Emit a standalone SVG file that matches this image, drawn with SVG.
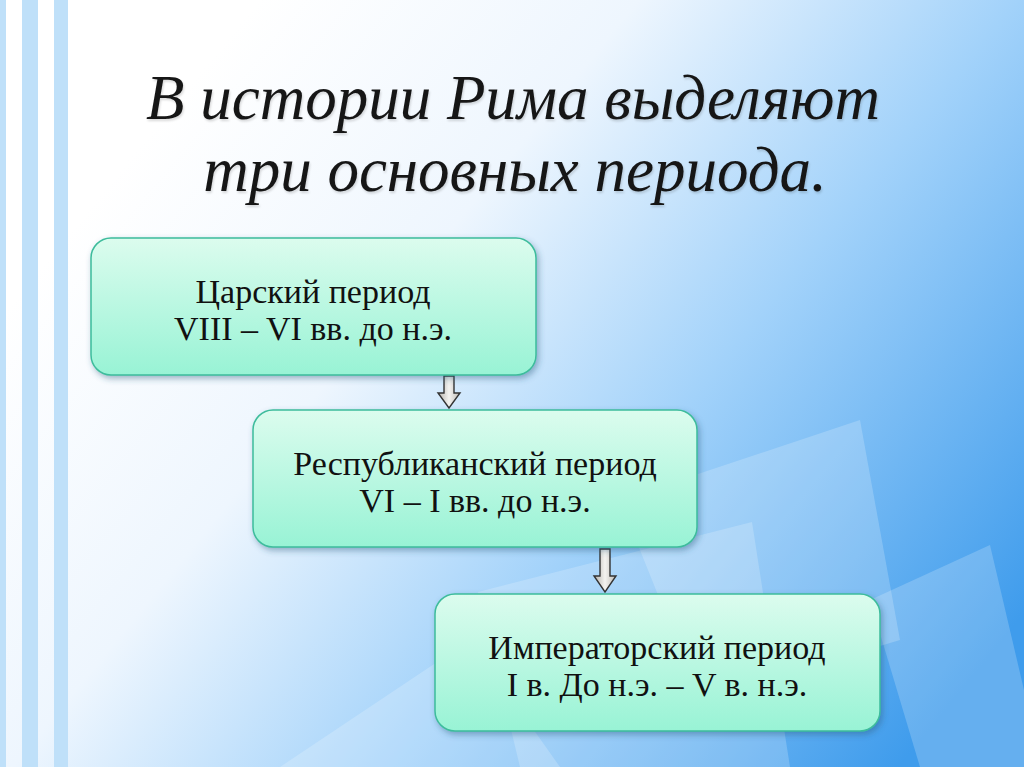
<svg xmlns="http://www.w3.org/2000/svg" width="1024" height="767" viewBox="0 0 1024 767">
<defs>
<linearGradient id="bg" x1="0.1" y1="0.25" x2="1" y2="0.8">
<stop offset="0" stop-color="#ffffff"/>
<stop offset="0.3" stop-color="#eef6fe"/>
<stop offset="0.6" stop-color="#a2d2fa"/>
<stop offset="1" stop-color="#3f9cec"/>
</linearGradient>
<linearGradient id="box" x1="0" y1="0" x2="0" y2="1">
<stop offset="0" stop-color="#dcfcee"/>
<stop offset="1" stop-color="#98f3d5"/>
</linearGradient>
<linearGradient id="arr" x1="0" y1="0" x2="1" y2="0">
<stop offset="0" stop-color="#b3b0aa"/>
<stop offset="0.5" stop-color="#f4f3f0"/>
<stop offset="1" stop-color="#bdbab4"/>
</linearGradient>
<filter id="sh" x="-10%" y="-10%" width="120%" height="130%">
<feDropShadow dx="2" dy="3" stdDeviation="3" flood-color="#2a5d80" flood-opacity="0.45"/>
</filter>
<filter id="tsh" x="-5%" y="-20%" width="110%" height="140%">
<feDropShadow dx="1" dy="2" stdDeviation="1.2" flood-color="#000" flood-opacity="0.15"/>
</filter>
<style>
.node rect{fill:url(#box);stroke:#3dbc9c;stroke-width:1.5;filter:url(#sh)}
.node text{font-family:"Liberation Serif",serif;font-size:34px;fill:#111;text-anchor:middle}
.title{font-family:"Liberation Serif",serif;font-style:italic;font-size:63px;fill:#151515;text-anchor:middle;filter:url(#tsh)}
.stripe{fill:#bfe0f9}
.paper{fill:#ffffff;opacity:0.2}
.conn path{fill:url(#arr);stroke:#333;stroke-width:1.4}
</style>
</defs>
<rect width="1024" height="767" fill="url(#bg)"/>
<g id="papers">
<polygon class="paper" points="478,592 752,522 790,767 520,767"/>
<polygon class="paper" points="620,500 860,420 900,640 700,700"/>
<polygon class="paper" points="870,600 990,545 1024,690 1024,767 920,767"/>
<polygon class="paper" points="280,767 470,640 560,767"/>
</g>
<g id="stripes">
<rect class="stripe" x="0" y="0" width="6" height="767"/>
<rect class="stripe" x="22" y="0" width="16" height="767"/>
<rect class="stripe" x="54" y="0" width="14" height="767"/>
</g>
<text class="title" x="513" y="119">В истории Рима выделяют</text>
<text class="title" x="515" y="191">три основных периода.</text>
<g id="connectors" class="conn">
<path d="M444,376 H454 V393 H460 L449,408 L438,393 H444 Z"/>
<path d="M600,549 H610 V576 H616 L605,592 L594,576 H600 Z"/>
</g>
<g id="node1" class="node">
<rect x="91" y="238" width="445" height="137" rx="20"/>
<text x="313" y="303">Царский период</text>
<text x="313" y="340">VIII – VI вв. до н.э.</text>
</g>
<g id="node2" class="node">
<rect x="253" y="410" width="444" height="137" rx="20"/>
<text x="475" y="475">Республиканский период</text>
<text x="475" y="512">VI – I вв. до н.э.</text>
</g>
<g id="node3" class="node">
<rect x="435" y="594" width="445" height="137" rx="20"/>
<text x="657" y="659">Императорский период</text>
<text x="657" y="696">I в. До н.э. – V в. н.э.</text>
</g>
</svg>
